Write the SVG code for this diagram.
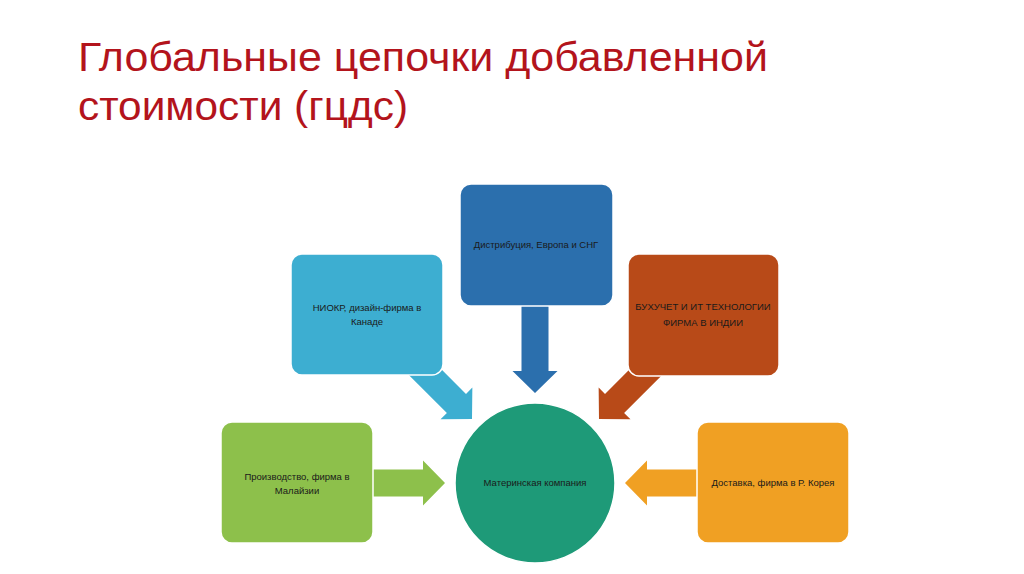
<svg xmlns="http://www.w3.org/2000/svg" width="1024" height="574" viewBox="0 0 1024 574">
<style>
.title{font-family:"Liberation Sans","Open Sans",sans-serif;font-size:40px;fill:#B3141C}
.lbl{font-family:"Liberation Sans","Noto Sans",sans-serif;font-size:9.5px;fill:#1a1a1a;text-anchor:middle}
.box{stroke:#ffffff;stroke-width:1.5}
</style>
<defs>
<polygon id="arr" points="0,0 -22,-22.5 -22,-13.5 -90,-13.5 -90,13.5 -22,13.5 -22,22.5"/>
</defs>
<rect width="1024" height="574" fill="#ffffff"/>
<g id="title">
<text class="title" x="78" y="71" textLength="690" lengthAdjust="spacingAndGlyphs">Глобальные цепочки добавленной</text>
<text class="title" x="78" y="120" textLength="330" lengthAdjust="spacingAndGlyphs">стоимости (гцдс)</text>
</g>
<g id="connectors">
<use href="#arr" fill="#2B6FAD" transform="translate(535,393) rotate(90)"/>
<use href="#arr" fill="#3DAED1" transform="translate(472,419) rotate(45)"/>
<use href="#arr" fill="#B84A18" transform="translate(599,419) rotate(135)"/>
<use href="#arr" fill="#8DC04B" transform="translate(445,483)"/>
<use href="#arr" fill="#F0A023" transform="translate(625,483) rotate(180)"/>
</g>
<g id="node-distribution">
<rect class="box" x="460" y="184" width="153" height="122" rx="11" fill="#2B6FAD"/>
<text class="lbl" x="536" y="248">Дистрибуция, Европа и СНГ</text>
</g>
<g id="node-niokr">
<rect class="box" x="291" y="254" width="152" height="121" rx="11" fill="#3DAED1"/>
<text class="lbl" x="367" y="311">НИОКР, дизайн-фирма в</text>
<text class="lbl" x="367" y="325">Канаде</text>
</g>
<g id="node-accounting">
<rect class="box" x="628" y="254" width="151" height="122" rx="11" fill="#B84A18"/>
<text class="lbl" x="703" y="310">БУХУЧЕТ И ИТ ТЕХНОЛОГИИ</text>
<text class="lbl" x="703" y="326">ФИРМА В ИНДИИ</text>
</g>
<g id="node-production">
<rect class="box" x="221" y="422" width="152" height="121" rx="11" fill="#8DC04B"/>
<text class="lbl" x="297" y="480">Производство, фирма в</text>
<text class="lbl" x="297" y="494">Малайзии</text>
</g>
<g id="node-delivery">
<rect class="box" x="697" y="422" width="152" height="121" rx="11" fill="#F0A023"/>
<text class="lbl" x="773" y="486">Доставка, фирма в Р. Корея</text>
</g>
<g id="node-parent">
<circle cx="535" cy="483" r="80" fill="#1E9A78" stroke="#ffffff" stroke-width="1.5"/>
<text class="lbl" x="535" y="486">Материнская компания</text>
</g>
</svg>
